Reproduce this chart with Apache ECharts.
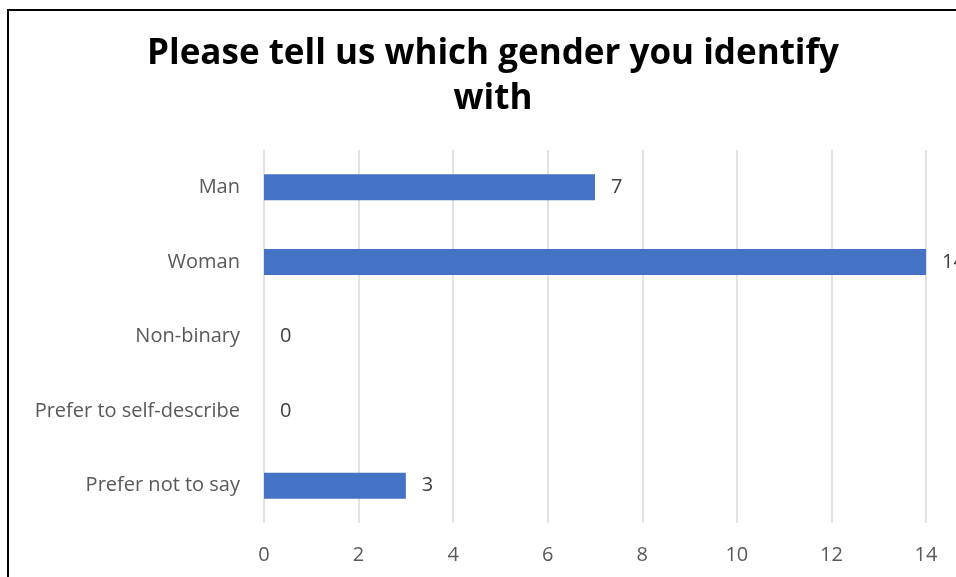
<!DOCTYPE html>
<html>
<head>
<meta charset="utf-8">
<script src="https://cdn.jsdelivr.net/npm/echarts@6/dist/echarts.min.js"></script>
<style>
  html, body { margin: 0; padding: 0; background: #ffffff; }
  #chart { width: 956px; height: 577px; }
</style>
</head>
<body>
<div id="chart"></div>
<script>
// Survey responses: gender identity
const categories = ['Man', 'Woman', 'Non-binary', 'Prefer to self-describe', 'Prefer not to say'];
const responses = [7, 14, 0, 0, 3];
const xTicks = { min: 0, max: 14, interval: 2 };

const chart = echarts.init(document.getElementById('chart'), null, { renderer: 'canvas' });

const labelFont = '"Open Sans", Lato, "DejaVu Sans", sans-serif';

chart.setOption({
  backgroundColor: '#ffffff',
  animation: false,
  title: {
    text: 'Please tell us which gender you identify\nwith',
    left: 488,
    top: 27,
    textAlign: 'center',
    textStyle: {
      fontFamily: labelFont,
      fontWeight: 'bold',
      fontSize: 35,
      lineHeight: 45,
      color: '#000000'
    }
  },
  graphic: [{
    type: 'rect',
    shape: { x: 8, y: 10, width: 1000, height: 700 },
    style: { fill: 'none', stroke: '#000000', lineWidth: 2 },
    silent: true,
    z: 100
  }],
  grid: { left: 264, right: 30, top: 150, bottom: 54, containLabel: false },
  xAxis: {
    type: 'value',
    min: xTicks.min,
    max: xTicks.max,
    interval: xTicks.interval,
    axisLine: { show: false },
    axisTick: { show: false },
    splitLine: { show: true, lineStyle: { color: '#d9d9d9', width: 1.5 } },
    axisLabel: { color: '#595959', fontSize: 20, fontFamily: labelFont, margin: 22 }
  },
  yAxis: {
    type: 'category',
    data: categories,
    inverse: true,
    axisLine: { show: false },
    axisTick: { show: false },
    axisLabel: { color: '#595959', fontSize: 20, fontFamily: labelFont, margin: 24 }
  },
  series: [{
    type: 'bar',
    data: responses,
    barWidth: 26,
    itemStyle: { color: '#4472c4' },
    label: {
      show: true,
      position: 'right',
      distance: 16,
      color: '#404040',
      fontSize: 20,
      fontFamily: labelFont
    }
  }]
});
</script>
</body>
</html>
